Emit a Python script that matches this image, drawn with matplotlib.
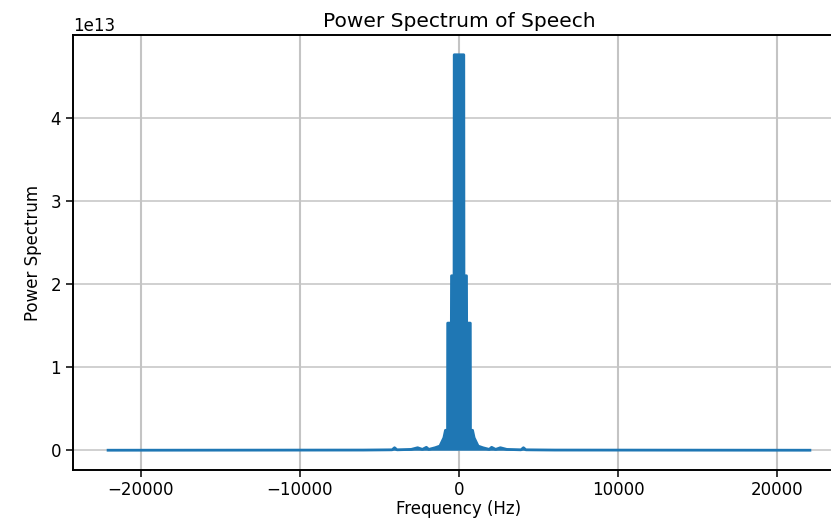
import numpy as np
import matplotlib
matplotlib.use("Agg")
import matplotlib.pyplot as plt

# Power spectrum envelope of a speech recording (sample rate 44.1 kHz),
# frequency in Hz, power in units of 1e13.
freq_hz = [-22050, -6000, -4200, -4050, -3900, -3000, -2600, -2300, -2050,
           -1900, -1500, -1200, -950, -850, -720, -710, -480, -470,
           -310, -300, -200, -190, 0, 190, 200, 300, 310, 470, 480,
           710, 720, 850, 950, 1200, 1500, 1900, 2050, 2300, 2600,
           3000, 3900, 4050, 4200, 6000, 22050]
power_1e13 = [0.0, 0.002, 0.005, 0.03, 0.005, 0.01, 0.03, 0.01, 0.035,
              0.01, 0.03, 0.05, 0.15, 0.24, 0.24, 1.53, 1.53, 2.1,
              2.1, 4.76, 4.76, 4.76, 4.76, 4.76, 4.76, 4.76, 2.1, 2.1, 1.53,
              1.53, 0.24, 0.24, 0.15, 0.05, 0.03, 0.01, 0.035, 0.01, 0.03,
              0.01, 0.005, 0.03, 0.005, 0.002, 0.0]

x_ticks = [-20000, -10000, 0, 10000, 20000]
y_ticks = [0, 1, 2, 3, 4]

freq = np.array(freq_hz, dtype=float)
power = np.array(power_1e13, dtype=float) * 1e13

fig = plt.figure(figsize=(8.31, 5.2), dpi=100)
ax = fig.add_axes([73 / 831, 50 / 520, (845 - 73) / 831, 435 / 520])

color = "#1f77b4"
ax.fill_between(freq, 0, power, color=color, linewidth=0)
ax.plot(freq, power, color=color, linewidth=2.0)

ax.set_xticks(x_ticks)
ax.set_yticks([v * 1e13 for v in y_ticks])
ax.ticklabel_format(axis="y", style="sci", scilimits=(0, 0))
ax.yaxis.get_offset_text().set_fontsize(12)

ax.xaxis.grid(True, color="#c4c4c4", linewidth=1.5)
ax.yaxis.grid(True, color="#c4c4c4", linewidth=1.1)
ax.set_axisbelow(True)

ax.tick_params(axis="both", labelsize=12, length=5, width=1.1)
ax.tick_params(axis="x", pad=3)
for s in ax.spines.values():
    s.set_linewidth(1.4)

ax.set_title("Power Spectrum of Speech", fontsize=14.5, pad=6)
ax.set_xlabel("Frequency (Hz)", fontsize=12, labelpad=1)
ax.set_ylabel("Power Spectrum", fontsize=12, labelpad=6)

fig.savefig("out.png", dpi=100)
